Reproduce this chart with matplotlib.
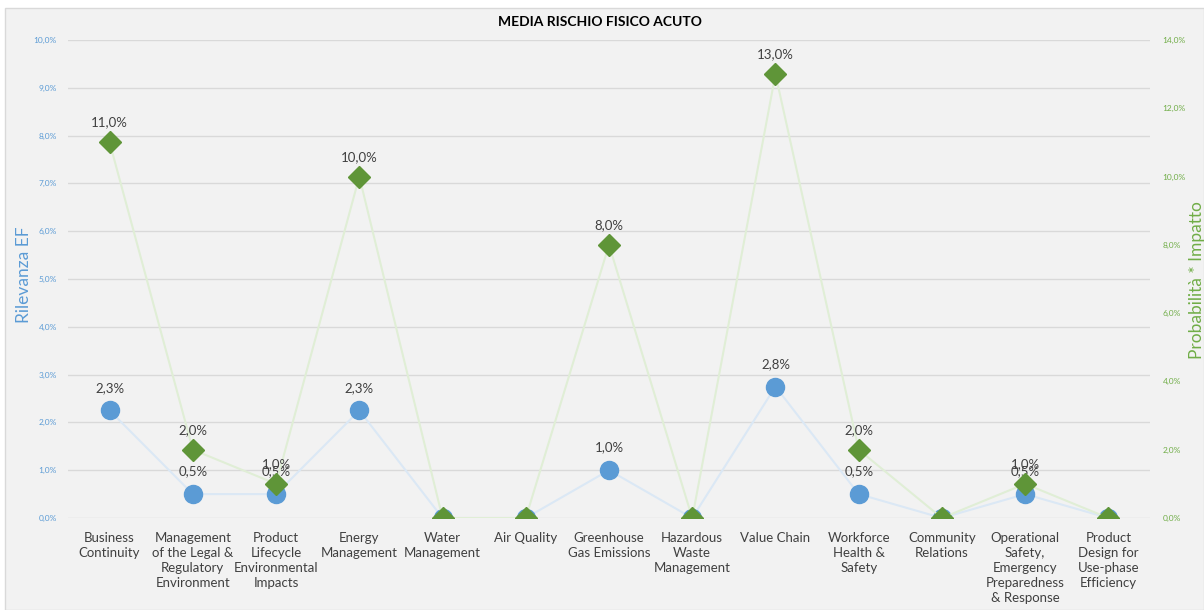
import matplotlib.pyplot as plt
from matplotlib.patches import Rectangle

plt.rcParams['font.family'] = ['Lato', 'DejaVu Sans']

# categorie (asse x)
categorie = ['Business\nContinuity',
             'Management\nof the Legal &\nRegulatory\nEnvironment',
             'Product\nLifecycle\nEnvironmental\nImpacts',
             'Energy\nManagement',
             'Water\nManagement',
             'Air Quality',
             'Greenhouse\nGas Emissions',
             'Hazardous\nWaste\nManagement',
             'Value Chain',
             'Workforce\nHealth &\nSafety',
             'Community\nRelations',
             'Operational\nSafety,\nEmergency\nPreparedness\n& Response',
             'Product\nDesign for\nUse-phase\nEfficiency']

# Rilevanza EF (asse sinistro, %)
rilevanza = [2.25, 0.5, 0.5, 2.25, 0.0, 0.0, 1.0, 0.0, 2.75, 0.5, 0.0, 0.5, 0.0]
# Probabilità * Impatto (asse destro, %)
prob_impatto = [11.0, 2.0, 1.0, 10.0, 0.0, 0.0, 8.0, 0.0, 13.0, 2.0, 0.0, 1.0, 0.0]
tick_sx = [0, 1, 2, 3, 4, 5, 6, 7, 8, 9, 10]
tick_dx = [0, 2, 4, 6, 8, 10, 12, 14]

BLU = '#5b9bd5'
VERDE = '#5f9538'
BLU_LINEA = '#dbe8f5'
VERDE_LINEA = '#e0eed6'


def pct(v):
    # arrotondamento come Excel (0,25 -> 0,3)
    return ('%.1f%%' % (v + 1e-9)).replace('.', ',')


fig = plt.figure(figsize=(12.04, 6.10), dpi=100)
fig.patch.set_facecolor('white')
fig.patches.append(Rectangle((5 / 1204, 0), 1 - 5 / 1204, 1 - 8 / 610,
                             transform=fig.transFigure, facecolor='#f2f2f2',
                             edgecolor='#d9d9d9', linewidth=1, zorder=-10))

ax = fig.add_axes([68 / 1204, (610 - 518) / 610, (1150 - 68) / 1204, (518 - 40) / 610])
ax.set_facecolor('none')
x = list(range(len(categorie)))

ax.plot(x, rilevanza, color=BLU_LINEA, linewidth=1.5, marker='o', markersize=13,
        markerfacecolor=BLU, markeredgecolor=BLU, zorder=3)
for xi, v in zip(x, rilevanza):
    if v > 0:
        ax.annotate(pct(v), (xi, v), xytext=(0, 12), textcoords='offset points',
                    ha='center', va='bottom', fontsize=9.5, color='#404040')

ax.set_xlim(-0.5, len(categorie) - 0.5)
ax.set_ylim(0, 10)
ax.set_yticks(tick_sx)
ax.set_yticklabels([pct(t) for t in tick_sx], color=BLU, fontsize=6)
ax.set_xticks(x)
ax.set_xticklabels(categorie, fontsize=9.5, color='#404040', linespacing=1.3, va='top')
ax.tick_params(length=0, pad=10)
ax.tick_params(axis='y', pad=8)
ax.grid(axis='y', color='#d9d9d9', linewidth=1)
ax.set_axisbelow(True)
for s in ax.spines.values():
    s.set_visible(False)

ax2 = ax.twinx()
ax2.plot(x, prob_impatto, color=VERDE_LINEA, linewidth=1.5, marker='D', markersize=11,
         markerfacecolor=VERDE, markeredgecolor=VERDE, zorder=3)
for xi, v in zip(x, prob_impatto):
    if v > 0:
        ax2.annotate(pct(v), (xi, v), xytext=(0, 10), textcoords='offset points',
                     ha='center', va='bottom', fontsize=9.5, color='#404040')
ax2.set_ylim(0, 14)
ax2.set_yticks(tick_dx)
ax2.set_yticklabels([pct(t) for t in tick_dx], color='#70ad47', fontsize=6)
ax2.tick_params(length=0, pad=9)
for s in ax2.spines.values():
    s.set_visible(False)

fig.text(600 / 1204, 1 - 22 / 610, 'MEDIA RISCHIO FISICO ACUTO', ha='center', va='center',
         fontsize=10, fontweight='bold', color='black')
fig.text(24 / 1204, 1 - 275 / 610, 'Rilevanza EF', rotation=90, ha='center', va='center',
         fontsize=12.5, color=BLU)
fig.text(1197 / 1204, 1 - 280 / 610, 'Probabilità * Impatto', rotation=90, ha='center',
         va='center', fontsize=12.5, color='#70ad47')

fig.savefig('out.png', dpi=100, facecolor=fig.get_facecolor())
